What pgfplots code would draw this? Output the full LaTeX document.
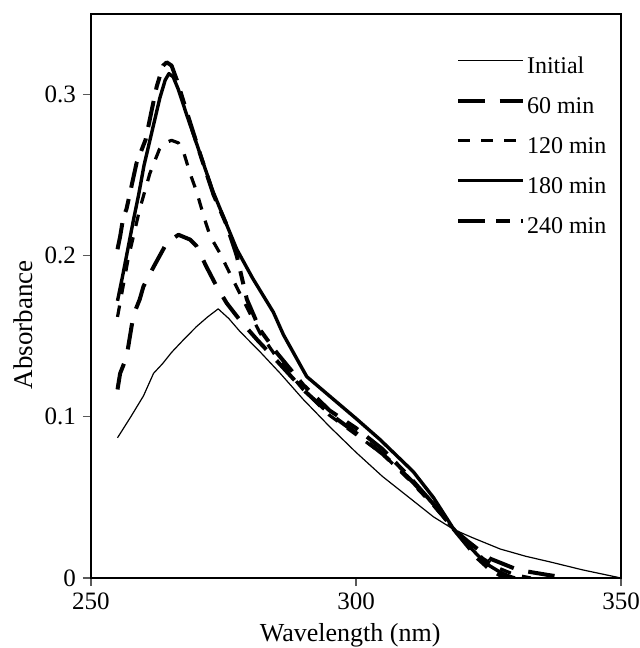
\documentclass[border=0pt]{standalone}
\usepackage{fontspec}
\setmainfont{Liberation Serif}
\usepackage{pgfplots}
\pgfplotsset{compat=1.18}
\begin{document}
\begin{tikzpicture}
\begin{axis}[
 scale only axis, width=265pt, height=282pt,
 xmin=250, xmax=350, ymin=0, ymax=0.35,
 xtick={250,300,350}, ytick={0,0.1,0.2,0.3},
 tick align=outside, xtick pos=bottom, ytick pos=left,
 major tick length=4pt,
 tick style={gray!70!black, line width=0.6pt},
 axis line style={line width=0.8pt},
 /pgf/number format/assume math mode=true,
 tick label style={font=\fontsize{12.5}{14}\selectfont},
 xlabel={Wavelength (nm)}, ylabel={Absorbance},
 xlabel style={at={(axis description cs:0.489,-0.101)}, anchor=center, font=\fontsize{13}{15}\selectfont},
 ylabel style={at={(axis description cs:-0.128,0.449)}, anchor=center, font=\fontsize{13.5}{15}\selectfont},
 legend style={draw=none, fill=none, at={(axis description cs:0.688,0.927)}, anchor=north west,
   font=\fontsize{12}{14}\selectfont, row sep=8pt, inner sep=0pt,
   nodes={text height=8pt, text depth=2pt, inner sep=1pt}},
 legend cell align=left,
 legend image code/.code={\draw[#1] (0pt,3.5pt) -- (32.5pt,3.5pt);},
 every axis plot/.append style={line join=round, line cap=butt},
]
\coordinate (sw) at (rel axis cs:0,0);
\coordinate (ne) at (rel axis cs:1,1);
% Initial
\addplot[black, line width=0.6pt] coordinates {
(255,0.087) (257.5,0.100) (259.9,0.113) (261.8,0.127) (263.5,0.133) (265.2,0.140)
(267.5,0.148) (269.9,0.156) (272,0.162) (274.0,0.167) (276,0.161) (278.1,0.153)
(282,0.140) (285.7,0.127) (290,0.111) (295,0.094) (300,0.078) (305,0.063)
(310,0.050) (314.6,0.038) (318.5,0.030) (322,0.025) (327.2,0.018) (332,0.0135)
(336.6,0.010) (342.8,0.005) (350,0.0)
};
\addlegendentry{Initial}
% 60 min
\addplot[black, line width=2pt, dash pattern=on 13.3pt off 7.5pt] coordinates {
(255,0.117) (255.5,0.127) (256.7,0.137) (258,0.163) (259.2,0.173) (259.9,0.181)
(261.8,0.193) (264.3,0.208) (266.5,0.213) (268.7,0.210) (269.9,0.206) (271.8,0.193)
(273.7,0.181) (275.6,0.1706) (278.1,0.160) (281.3,0.148) (285,0.135) (290,0.117)
(295,0.102) (300,0.090) (305,0.077) (310,0.062) (314.6,0.046) (318.5,0.030)
(321,0.023) (325.3,0.012) (330.6,0.005) (336,0.002) (340,0.0)
};
\addlegendentry{60 min}
% 120 min
\addplot[black, line width=1.6pt, dash pattern=on 5.8pt off 5.8pt] coordinates {
(255,0.162) (256,0.180) (257,0.198) (258,0.212) (259.2,0.229) (261.1,0.251)
(262.9,0.266) (264,0.270) (265.2,0.2716) (266.5,0.270) (267.5,0.264) (268.7,0.251)
(269.9,0.240) (271.5,0.222) (272.5,0.212) (274.3,0.2017) (276.8,0.185) (279.4,0.168)
(281.9,0.152) (285,0.137) (290,0.117) (295,0.101) (300,0.089) (305,0.077)
(310,0.061) (314.6,0.045) (318.5,0.030) (321,0.021) (324,0.012) (327,0.006)
(330,0.002) (333,0.0)
};
\addlegendentry{120 min}
% 180 min
\addplot[black, line width=1.7pt] coordinates {
(255,0.172) (256,0.188) (257,0.205) (258,0.222) (259,0.238) (260,0.256) (261,0.270)
(262,0.284) (263,0.298) (264,0.309) (264.7,0.313) (265.5,0.311) (266.5,0.303)
(268,0.288) (270.5,0.264) (273,0.240) (275.5,0.220) (277.5,0.204) (280.5,0.186)
(284.4,0.165) (286.3,0.151) (290.7,0.125) (295.7,0.111) (300,0.099) (304.5,0.086)
(310.8,0.066) (314.6,0.050) (318.5,0.030) (321,0.021) (323,0.014) (325,0.008)
(327,0.004) (329,0.001) (330,0.0)
};
\addlegendentry{180 min}
% 240 min
\addplot[black, line width=2pt, dash pattern=on 13.3pt off 5.8pt on 6.7pt off 5.8pt] coordinates {
(255,0.204) (255.5,0.212) (256.1,0.224) (256.7,0.229) (258.6,0.2576) (260.3,0.272)
(261.5,0.291) (262.4,0.305) (263.6,0.318) (264.3,0.320) (265.2,0.318) (266.2,0.309)
(268,0.290) (270.6,0.263) (273.1,0.238) (275.6,0.219) (277.5,0.200) (279.4,0.173)
(281.9,0.154) (285,0.140) (290,0.120) (295,0.104) (300,0.093) (305,0.080)
(310,0.063) (314.6,0.046) (318.5,0.030) (321,0.020) (323,0.012) (325,0.006)
(327,0.002) (329,0.0)
};
\addlegendentry{240 min}
\end{axis}
\pgfresetboundingbox
\path[use as bounding box] ([xshift=-45.5pt,yshift=-35pt]sw) rectangle ([xshift=9pt,yshift=7pt]ne);
\end{tikzpicture}
\end{document}
